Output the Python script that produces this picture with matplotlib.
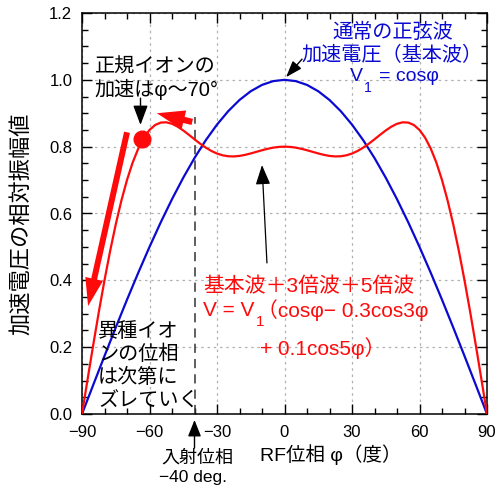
import matplotlib
matplotlib.use("Agg")
import matplotlib.pyplot as plt
from matplotlib.ticker import MultipleLocator, FormatStrFormatter

plt.rcParams['font.family'] = ['Liberation Sans', 'Noto Sans CJK JP', 'DejaVu Sans']

# RF位相 (度) : 基本波
phase = [-90, -85, -80, -75, -70, -65, -60, -55, -50, -45, -40, -35, -30, -25, -20, -15, -10, -5,
         0, 5, 10, 15, 20, 25, 30, 35, 40, 45, 50, 55, 60, 65, 70, 75, 80, 85, 90]
# 基本波 V1 = cos(phi)
v_basic = [0.0, 0.0872, 0.1736, 0.2588, 0.3420, 0.4226, 0.5000, 0.5736, 0.6428, 0.7071, 0.7660,
           0.8192, 0.8660, 0.9063, 0.9397, 0.9659, 0.9848, 0.9962,
           1.0,
           0.9962, 0.9848, 0.9659, 0.9397, 0.9063, 0.8660, 0.8192, 0.7660, 0.7071, 0.6428,
           0.5736, 0.5000, 0.4226, 0.3420, 0.2588, 0.1736, 0.0872, 0.0]

# RF位相 (度) : 基本波+3倍波+5倍波 (細かく読み取り)
phase_fine = [-90, -87.5, -85, -82.5, -80, -77.5, -75, -72.5, -70, -67.5, -65, -62.5, -60, -57.5,
              -55, -52.5, -50, -47.5, -45, -42.5, -40, -37.5, -35, -32.5, -30, -27.5, -25, -22.5,
              -20, -17.5, -15, -12.5, -10, -7.5, -5, -2.5,
              0, 2.5, 5, 7.5, 10, 12.5, 15, 17.5, 20, 22.5, 25, 27.5, 30, 32.5, 35, 37.5, 40,
              42.5, 45, 47.5, 50, 52.5, 55, 57.5, 60, 62.5, 65, 67.5, 70, 72.5, 75, 77.5, 80,
              82.5, 85, 87.5, 90]
v_mixed = [0.0, 0.1044, 0.2071, 0.3062, 0.4002, 0.4878, 0.5675, 0.6386, 0.7003, 0.7522, 0.7943,
           0.8267, 0.8500, 0.8648, 0.8721, 0.8729, 0.8684, 0.8599, 0.8485, 0.8356, 0.8220,
           0.8090, 0.7972, 0.7872, 0.7794, 0.7741, 0.7713, 0.7708, 0.7723, 0.7755, 0.7797,
           0.7845, 0.7893, 0.7936, 0.7971, 0.7993,
           0.8,
           0.7993, 0.7971, 0.7936, 0.7893, 0.7845, 0.7797, 0.7755, 0.7723, 0.7708, 0.7713,
           0.7741, 0.7794, 0.7872, 0.7972, 0.8090, 0.8220, 0.8356, 0.8485, 0.8599, 0.8684,
           0.8729, 0.8721, 0.8648, 0.8500, 0.8267, 0.7943, 0.7522, 0.7003, 0.6386, 0.5675,
           0.4878, 0.4002, 0.3062, 0.2071, 0.1044, 0.0]

inject_phase = -40
dot_phase, dot_v = -63.3, 0.823

blue = '#0a0ad2'
red = '#ff0a0a'

fig = plt.figure(figsize=(4.97, 4.88), dpi=100)
ax = fig.add_axes([82 / 497, 74 / 488, 405 / 497, 401 / 488])

ax.plot(phase, v_basic, color=blue, lw=1.6, zorder=3)
ax.plot(phase_fine, v_mixed, color=red, lw=1.6, zorder=3)
ax.plot([dot_phase], [dot_v], 'o', color=red, ms=12, zorder=4)

# 入射位相の破線
ax.plot([inject_phase, inject_phase], [0, 0.89], color='#333333', lw=1.1,
        dashes=(6, 4), zorder=2)

ax.set_xlim(-90, 90)
ax.set_ylim(0, 1.2)
ax.xaxis.set_major_locator(MultipleLocator(30))
ax.xaxis.set_minor_locator(MultipleLocator(10))
ax.yaxis.set_major_locator(MultipleLocator(0.2))
ax.yaxis.set_minor_locator(MultipleLocator(0.05))
ax.yaxis.set_major_formatter(FormatStrFormatter('%.1f'))
ax.tick_params(which='both', direction='in', top=True, right=True, width=1, labelsize=12)
ax.tick_params(which='major', length=7)
ax.tick_params(which='minor', length=4.5)
ax.tick_params(axis='y', pad=7)
ax.tick_params(axis='x', pad=8)
for s in ax.spines.values():
    s.set_linewidth(1.1)
ax.grid(True, which='major', color='#b0b0b0', lw=0.9, linestyle=(0, (2, 3)))

ax.set_xlabel('RF位相 φ（度）', fontsize=14)
ax.xaxis.set_label_coords(0.615, -0.102)
ax.xaxis.label.set_va('center')
ax.set_ylabel('加速電圧の相対振幅値', fontsize=16)
ax.yaxis.set_label_coords(-0.147, 0.474)
ax.yaxis.label.set_va('center')


def sub_text(x, y, head, sub, rest, color, fs, gap=2):
    # V_1 のような添字付きの文字列を3つに分けて並べる
    t1 = ax.text(x, y, head, color=color, fontsize=fs, ha='left', va='center')
    t2 = ax.annotate(sub, xy=(1, 0.5), xycoords=t1, xytext=(1, -8),
                     textcoords='offset points', fontsize=fs * 0.72, color=color,
                     ha='left', va='center')
    ax.annotate(rest, xy=(1, 0.5), xycoords=(t2, t1), xytext=(gap, 0),
                textcoords='offset points', fontsize=fs, color=color, ha='left', va='center')


# 青の注記
ax.text(48.2, 1.143, '通常の正弦波', color=blue, fontsize=14.5, ha='center', va='center')
ax.text(47.8, 1.074, '加速電圧（基本波）', color=blue, fontsize=14.5, ha='center', va='center')
sub_text(29.1, 1.010, 'V', '1', '= cosφ', blue, 14, gap=5)
ax.annotate('', xy=(0.7, 1.008), xytext=(7.8, 1.062),
            arrowprops=dict(arrowstyle='-|>,head_length=1.0,head_width=0.35', color='k',
                            lw=1, shrinkA=0, shrinkB=0, mutation_scale=10))

# 正規イオン
ax.text(-84.3, 1.038, '正規イオンの', fontsize=14.5, ha='left', va='center')
ax.text(-84.3, 0.970, '加速はφ～70°', fontsize=14.5, ha='left', va='center')
ax.annotate('', xy=(-64.0, 0.865), xytext=(-64.0, 0.945),
            arrowprops=dict(arrowstyle='-|>,head_length=1.2,head_width=0.45', color='k',
                            lw=1, shrinkA=0, shrinkB=0, mutation_scale=10))

# 赤の太矢印
ax.annotate('', xy=(-56.7, 0.900), xytext=(-41.0, 0.874),
            arrowprops=dict(arrowstyle='simple,head_length=20,head_width=14,tail_width=4.5',
                            color=red, lw=0, shrinkA=0, shrinkB=0, mutation_scale=1))
ax.annotate('', xy=(-87.3, 0.323), xytext=(-70.0, 0.843),
            arrowprops=dict(arrowstyle='simple,head_length=20,head_width=13,tail_width=4.3',
                            color=red, lw=0, shrinkA=0, shrinkB=0, mutation_scale=1))

# 赤の注記
ax.text(-36.2, 0.383, '基本波＋3倍波＋5倍波', color=red, fontsize=15, ha='left', va='center')
sub_text(-36.2, 0.310, 'V = V', '1', '（cosφ− 0.3cos3φ', red, 15, gap=-5)
ax.text(-10.9, 0.197, '+ 0.1cos5φ）', color=red, fontsize=15, ha='left', va='center')
ax.annotate('', xy=(-10.0, 0.745), xytext=(-7.8, 0.452),
            arrowprops=dict(arrowstyle='-|>,head_length=1.2,head_width=0.45', color='k',
                            lw=0.9, shrinkA=0, shrinkB=0, mutation_scale=10))

# 異種イオン
for i, line in enumerate(['異種イオ', 'ンの位相', 'は次第に', 'ズレていく']):
    ax.text(-82.9, 0.248 - i * 0.0700, line, fontsize=14.5, ha='left', va='center')

# 入射位相
ax.text(-38.9, -0.132, '入射位相', fontsize=13, ha='center', va='center', clip_on=False)
ax.text(-40.7, -0.190, '−40 deg.', fontsize=12.5, ha='center', va='center', clip_on=False)
ax.annotate('', xy=(-40, -0.018), xytext=(-40, -0.102), annotation_clip=False,
            arrowprops=dict(arrowstyle='-|>,head_length=1.0,head_width=0.4', color='k',
                            lw=1, shrinkA=0, shrinkB=0, mutation_scale=10))

fig.savefig('out.png', dpi=100)
